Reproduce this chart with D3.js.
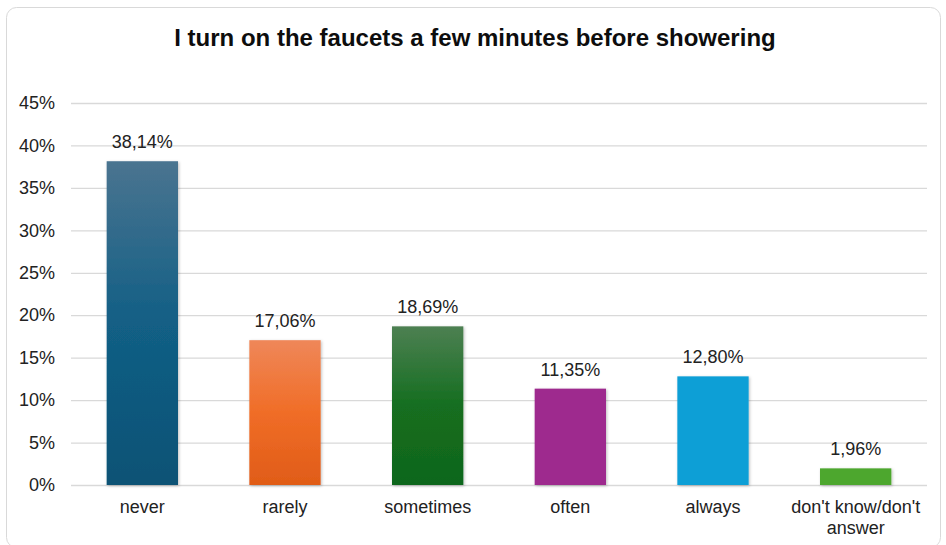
<!DOCTYPE html>
<html><head><meta charset="utf-8">
<script src="https://cdn.jsdelivr.net/npm/d3@7"></script>
<style>body{margin:0;background:#fff}svg{display:block}</style>
</head><body><svg id="c" width="946" height="545"></svg>
<script>
const categories = ["never","rarely","sometimes","often","always","don't know/don't answer"];
const values = [38.14, 17.06, 18.69, 11.35, 12.80, 1.96];
const labels = ["38,14%","17,06%","18,69%","11,35%","12,80%","1,96%"];
const yTicks = [0,5,10,15,20,25,30,35,40,45];
const colors = [
  ["#4a7490","#125f85","#0b5275"],
  ["#ef8759","#f06d27","#e05c18"],
  ["#4d8052","#156e20","#0f661b"],
  ["#9e2a8e","#9e2a8e","#9e2a8e"],
  ["#119fd6","#119fd6","#119fd6"],
  ["#4ea72e","#4ea72e","#4ea72e"]
];
const title = "I turn on the faucets a few minutes before showering";
const FONT = "Arial, 'Liberation Sans', sans-serif";

const svg = d3.select("#c");
const W = 946, H = 545;
const m = {left:71, right:19, top:103, bottom:60};
svg.append("rect").attr("x",6.5).attr("y",7.5).attr("width",934).attr("height",540)
  .attr("rx",10).attr("fill","#fff").attr("stroke","#d9d9d9").attr("stroke-width",1);

const defs = svg.append("defs");
colors.forEach((c,i)=>{
  const g = defs.append("linearGradient").attr("id","g"+i).attr("x1",0).attr("y1",0).attr("x2",0).attr("y2",1);
  g.append("stop").attr("offset","0%").attr("stop-color",c[0]);
  g.append("stop").attr("offset","50%").attr("stop-color",c[1]);
  g.append("stop").attr("offset","100%").attr("stop-color",c[2]);
});
const f = defs.append("filter").attr("id","sh").attr("x","-20%").attr("y","-20%").attr("width","140%").attr("height","140%");
f.append("feDropShadow").attr("dx",1).attr("dy",1).attr("stdDeviation",1.5).attr("flood-color","#000").attr("flood-opacity",0.25);

const x = d3.scaleBand().domain(categories).range([m.left, W-m.right]).paddingInner(0.5).paddingOuter(0.25);
const y = d3.scaleLinear().domain([0,45]).range([485, m.top]);

svg.append("text").attr("x",475).attr("y",46).attr("text-anchor","middle")
  .attr("font-family",FONT).attr("font-weight","bold").attr("font-size",24)
  .attr("fill","#0d0d0d").text(title);

const yAxis = d3.axisLeft(y).tickValues(yTicks).tickFormat(d=>d+"%").tickSize(-(W-m.left-m.right)).tickPadding(16);
const ga = svg.append("g").attr("transform",`translate(${m.left},0)`).call(yAxis);
ga.select(".domain").remove();
ga.selectAll(".tick line").attr("stroke","#d9d9d9").attr("stroke-width",1.3);
ga.selectAll(".tick text").attr("font-family",FONT).attr("font-size",18).attr("fill","#222");

svg.selectAll("rect.bar").data(values).enter().append("rect").attr("class","bar")
  .attr("x",(d,i)=>x(categories[i])).attr("width",x.bandwidth())
  .attr("y",d=>y(d)).attr("height",d=>y(0)-y(d))
  .attr("fill",(d,i)=>`url(#g${i})`).attr("filter","url(#sh)");

svg.selectAll("text.val").data(values).enter().append("text").attr("class","val")
  .attr("x",(d,i)=>x(categories[i])+x.bandwidth()/2).attr("y",d=>y(d)-13)
  .attr("text-anchor","middle").attr("font-family",FONT)
  .attr("font-size",18).attr("fill","#222").text((d,i)=>labels[i]);

const xl = svg.append("g");
categories.forEach((c,i)=>{
  const cx = x(c)+x.bandwidth()/2;
  const t = xl.append("text").attr("x",cx).attr("y",513).attr("text-anchor","middle")
    .attr("font-family",FONT).attr("font-size",18).attr("fill","#222");
  if (c.startsWith("don't know")) {
    t.append("tspan").attr("x",cx).attr("dy",0).text("don't know/don't");
    t.append("tspan").attr("x",cx).attr("dy",21).text("answer");
  } else t.text(c);
});
</script></body></html>
